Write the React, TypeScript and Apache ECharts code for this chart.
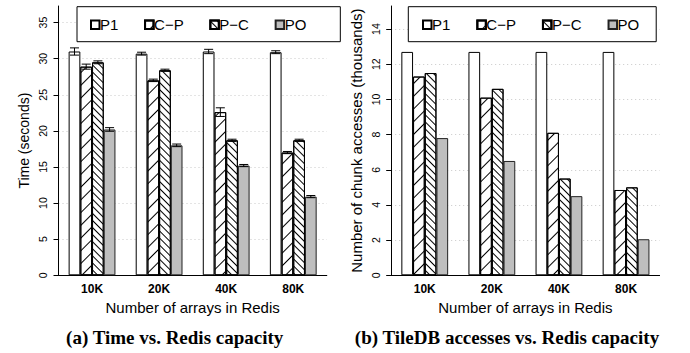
import React, { useEffect, useRef } from 'react';
import * as echarts from 'echarts';

// ---------- data ----------
const categories = ['10K', '20K', '40K', '80K'];
const seriesNames = ['P1', 'C\u2212P', 'P\u2212C', 'PO'];

// (a) time in seconds
const timeP1 = [31.0, 30.7, 31.0, 30.9];
const timeCP = [28.9, 27.0, 22.6, 17.0];
const timePC = [29.5, 28.4, 18.7, 18.7];
const timePO = [20.2, 18.0, 15.2, 10.9];
// error bar half-lengths
const errP1 = [0.5, 0.2, 0.3, 0.2];
const errCP = [0.35, 0.17, 0.6, 0.15];
const errPC = [0.2, 0.15, 0.15, 0.15];
const errPO = [0.25, 0.18, 0.15, 0.15];

// (b) chunk accesses in thousands
const accP1 = [12.7, 12.7, 12.7, 12.7];
const accCP = [11.3, 10.1, 8.1, 4.85];
const accPC = [11.5, 10.6, 5.5, 5.0];
const accPO = [7.8, 6.5, 4.5, 2.05];

const leftTicks = [0, 5, 10, 15, 20, 25, 30, 35];
const rightTicks = [0, 2, 4, 6, 8, 10, 12, 14];

// ---------- styles ----------
const SANS = '"Liberation Sans", Arial, Helvetica, sans-serif';
const SERIF = '"Liberation Serif", "Times New Roman", serif';
const BAR_W = 11.7;
const CAP = 9;

const itemStyles: any[] = [
  { color: '#ffffff', borderColor: '#000', borderWidth: 1 },
  {
    color: '#ffffff', borderColor: '#000', borderWidth: 1,
    decal: {
      symbol: 'rect', symbolSize: 1, symbolKeepAspect: false, color: '#000',
      backgroundColor: null, dashArrayX: [20, 0], dashArrayY: [1, 7.5], rotation: -Math.PI / 4,
    },
  },
  {
    color: '#ffffff', borderColor: '#000', borderWidth: 1,
    decal: {
      symbol: 'rect', symbolSize: 1, symbolKeepAspect: false, color: '#000',
      backgroundColor: null, dashArrayX: [20, 0], dashArrayY: [1, 3.3], rotation: Math.PI / 4,
    },
  },
  { color: '#bebebe', borderColor: '#222', borderWidth: 1 },
];

function valueAxis(gridIndex: number, max: number, name: string, ticks: number[], nameGap: number, nameSize: number) {
  return {
    gridIndex, type: 'value', min: 0, max,
    name, nameLocation: 'middle', nameGap,
    nameTextStyle: { fontSize: nameSize, color: '#000', fontFamily: SANS },
    axisLine: { show: true, lineStyle: { color: '#000', width: 1 } },
    axisTick: { show: true, length: 5, customValues: ticks, lineStyle: { color: '#000' } },
    axisLabel: { rotate: 90, fontSize: 10.5, color: '#000', margin: 10, fontFamily: SANS, customValues: ticks },
    splitLine: { show: true, lineStyle: { color: '#c8c8c8', width: 1, type: [1, 3] } },
  };
}

function catAxis(gridIndex: number) {
  return {
    gridIndex, type: 'category', data: categories,
    name: 'Number of arrays in Redis', nameLocation: 'middle', nameGap: 25,
    nameTextStyle: { fontSize: 15, color: '#000', fontFamily: SANS },
    axisLine: { show: true, lineStyle: { color: '#000', width: 1 } },
    axisTick: { show: false },
    axisLabel: { fontWeight: 'bold', fontSize: 12, color: '#000', margin: 8, fontFamily: SANS },
    splitLine: { show: false },
  };
}

function legend(left: number, padRight: number, padLeft: number, gap: number) {
  return {
    data: seriesNames, left, top: 6.7, orient: 'horizontal',
    padding: [10.5, padRight, 9.5, padLeft],
    itemWidth: 8.5, itemHeight: 8.5, itemGap: gap, icon: 'rect',
    borderColor: '#000', borderWidth: 1, backgroundColor: '#fff',
    selectedMode: false,
    textStyle: { fontSize: 15, color: '#000', fontFamily: SANS, width: 22, padding: [0, 0, 0, -4.5] },
  };
}

export default function App() {
  const ref = useRef<HTMLDivElement>(null);
  useEffect(() => {
    if (!ref.current) return;
    const chart = echarts.init(ref.current, undefined, { renderer: 'svg' });

    const timeSeries = [timeP1, timeCP, timePC, timePO];
    const timeErr = [errP1, errCP, errPC, errPO];
    const accSeries = [accP1, accCP, accPC, accPO];

    const errData: number[][] = [];
    timeSeries.forEach((vals, s) => {
      vals.forEach((v, i) => errData.push([i, v, timeErr[s][i], s]));
    });

    const bars: any[] = [];
    seriesNames.forEach((name, s) => {
      bars.push({
        type: 'bar', name, xAxisIndex: 0, yAxisIndex: 0, data: timeSeries[s],
        barWidth: BAR_W, barGap: '0%', itemStyle: itemStyles[s], emphasis: { disabled: true },
      });
    });
    seriesNames.forEach((name, s) => {
      bars.push({
        type: 'bar', name, xAxisIndex: 1, yAxisIndex: 1, data: accSeries[s],
        barWidth: BAR_W, barGap: '0%', itemStyle: itemStyles[s], emphasis: { disabled: true },
      });
    });

    const option: any = {
      animation: false,
      backgroundColor: '#fff',
      textStyle: { fontFamily: SANS },
      grid: [
        { left: 58.5, top: 6, width: 268.3, height: 269.3 },
        { left: 391.2, top: 6, width: 268.4, height: 269.3 },
      ],
      xAxis: [catAxis(0), catAxis(1)],
      yAxis: [
        valueAxis(0, 37.3, 'Time (seconds)', leftTicks, 28, 14),
        valueAxis(1, 15.31, 'Number of chunk accesses (thousands)', rightTicks, 27, 15),
      ],
      legend: [legend(77, 34, 13, 25.7), legend(408.3, 17, 13.7, 26)],
      series: [
        ...bars,
        {
          type: 'custom', name: 'err', xAxisIndex: 0, yAxisIndex: 0, z: 10,
          data: errData, encode: { x: 0, y: 1 },
          renderItem: (params: any, api: any) => {
            const cat = api.value(0);
            const v = api.value(1);
            const e = api.value(2);
            const s = api.value(3);
            const c = api.coord([cat, v]);
            const x = c[0] + (s - 1.5) * BAR_W;
            const top = api.coord([cat, v + e])[1];
            const bot = api.coord([cat, v - e])[1];
            const h = CAP / 2;
            const st = { stroke: '#000', lineWidth: 1 };
            return {
              type: 'group',
              children: [
                { type: 'line', shape: { x1: x, y1: top, x2: x, y2: bot }, style: st },
                { type: 'line', shape: { x1: x - h, y1: top, x2: x + h, y2: top }, style: st },
                { type: 'line', shape: { x1: x - h, y1: bot, x2: x + h, y2: bot }, style: st },
              ],
            };
          },
        },
      ],
      graphic: [
        {
          type: 'text', x: 174.7, y: 337.5,
          style: { text: '(a) Time vs. Redis capacity', fontSize: 19, fontWeight: 'bold', fontFamily: SERIF, fill: '#000', align: 'center', verticalAlign: 'middle' },
        },
        {
          type: 'text', x: 507, y: 337.5,
          style: { text: '(b) TileDB accesses vs. Redis capacity', fontSize: 19, fontWeight: 'bold', fontFamily: SERIF, fill: '#000', align: 'center', verticalAlign: 'middle' },
        },
      ],
    };
    chart.setOption(option);
    return () => chart.dispose();
  }, []);

  return (
    <div
      ref={ref}
      style={{ position: 'fixed', left: 0, top: 0, width: 690, height: 353, background: '#fff' }}
    />
  );
}
